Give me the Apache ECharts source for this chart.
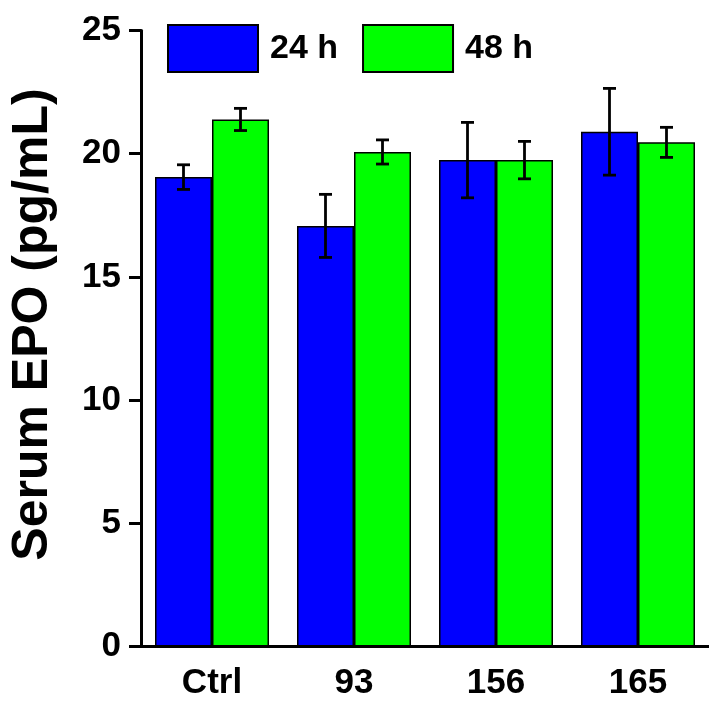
<!DOCTYPE html>
<html>
<head>
<meta charset="utf-8">
<script src="https://cdn.jsdelivr.net/npm/echarts@6/dist/echarts.min.js"></script>
<style>
html,body{margin:0;padding:0;background:#fff;}
#chart{width:709px;height:703px;}
</style>
</head>
<body>
<div id="chart"></div>
<script>
const categories = ['Ctrl', '93', '156', '165'];
const seriesNames = ['24 h', '48 h'];
const values24 = [19.05, 17.07, 19.74, 20.89];
const errors24 = [0.50, 1.28, 1.53, 1.76];
const values48 = [21.39, 20.07, 19.74, 20.46];
const errors48 = [0.45, 0.49, 0.76, 0.61];
const yTicks = [0, 5, 10, 15, 20, 25];

const BAR_W = 57;
const FONT = 'Liberation Sans, Arial, sans-serif';

function errorSeries(vals, errs, side) {
  return {
    type: 'custom',
    silent: true,
    z: 10,
    data: vals.map((v, i) => [i, v, errs[i]]),
    renderItem: function (params, api) {
      const i = api.value(0), v = api.value(1), e = api.value(2);
      const top = api.coord([i, v + e]);
      const bot = api.coord([i, v - e]);
      const x = top[0] + side * BAR_W / 2;
      const cap = 6.5;
      const st = { stroke: '#000', lineWidth: 2.8 };
      return {
        type: 'group',
        children: [
          { type: 'line', shape: { x1: x, y1: top[1], x2: x, y2: bot[1] }, style: st },
          { type: 'line', shape: { x1: x - cap, y1: top[1], x2: x + cap, y2: top[1] }, style: st },
          { type: 'line', shape: { x1: x - cap, y1: bot[1], x2: x + cap, y2: bot[1] }, style: st }
        ]
      };
    }
  };
}

const chart = echarts.init(document.getElementById('chart'), null, { renderer: 'canvas' });
chart.setOption({
  animation: false,
  backgroundColor: '#fff',
  grid: { left: 140, top: 30.5, width: 576, height: 616, containLabel: false },
  legend: {
    left: 162, top: 19,
    itemWidth: 90, itemHeight: 47, itemGap: 24,
    icon: 'rect',
    data: seriesNames,
    textStyle: { fontFamily: FONT, fontWeight: 'bold', fontSize: 34, color: '#000', padding: [0, 0, 0, 7] }
  },
  xAxis: {
    type: 'category',
    data: categories,
    axisLine: { lineStyle: { color: '#000', width: 3 } },
    axisTick: { inside: true, length: 5, lineStyle: { color: '#000', width: 3 } },
    axisLabel: { fontFamily: FONT, fontWeight: 'bold', fontSize: 35, color: '#000', margin: 19 },
    splitLine: { show: false }
  },
  yAxis: {
    type: 'value',
    min: 0, max: 25, interval: 5,
    name: 'Serum EPO (pg/mL)',
    nameLocation: 'middle',
    nameGap: 83,
    nameRotate: 90,
    nameTextStyle: { fontFamily: FONT, fontWeight: 'bold', fontSize: 50, color: '#000', padding: [0, 0, 0, 28] },
    axisLine: { show: true, lineStyle: { color: '#000', width: 3 } },
    axisTick: { show: true, length: 12, lineStyle: { color: '#000', width: 3 } },
    axisLabel: {
      fontFamily: FONT, fontWeight: 'bold', fontSize: 35, color: '#000', margin: 20,
      formatter: function (v) { return yTicks.indexOf(v) >= 0 ? String(v) : ''; }
    },
    splitLine: { show: false }
  },
  series: [
    {
      name: seriesNames[0], type: 'bar', data: values24, barWidth: BAR_W, barGap: '0%',
      itemStyle: { color: '#0000FF', borderColor: '#000', borderWidth: 1.5 }
    },
    {
      name: seriesNames[1], type: 'bar', data: values48, barWidth: BAR_W, barGap: '0%',
      itemStyle: { color: '#00FF00', borderColor: '#000', borderWidth: 1.5 }
    },
    errorSeries(values24, errors24, -1),
    errorSeries(values48, errors48, 1)
  ]
});
</script>
</body>
</html>
